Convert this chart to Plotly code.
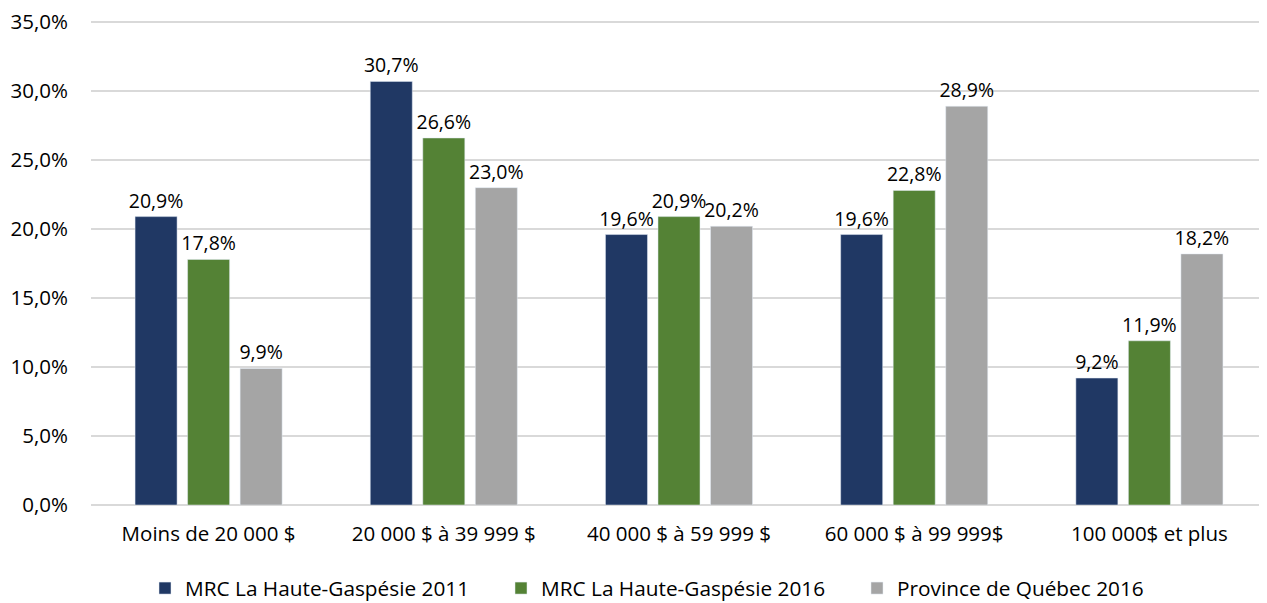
import plotly.graph_objects as go

categories = ["Moins de 20 000 $", "20 000 $ à 39 999 $", "40 000 $ à 59 999 $",
              "60 000 $ à 99 999$", "100 000$ et plus"]
mrc_2011 = [20.9, 30.7, 19.6, 19.6, 9.2]
mrc_2016 = [17.8, 26.6, 20.9, 22.8, 11.9]
quebec_2016 = [9.9, 23.0, 20.2, 28.9, 18.2]
series_names = ["MRC La Haute-Gaspésie 2011", "MRC La Haute-Gaspésie 2016",
                "Province de Québec 2016"]
colors = ["#203864", "#548235", "#A5A5A5"]
y_ticks = [0, 5, 10, 15, 20, 25, 30, 35]
y_tick_text = ["0,0%", "5,0%", "10,0%", "15,0%", "20,0%", "25,0%", "30,0%", "35,0%"]

FONT = "Open Sans, Lato, sans-serif"
FS = 20.5

fig = go.Figure()
for name, vals, col in zip(series_names, [mrc_2011, mrc_2016, quebec_2016], colors):
    fig.add_trace(go.Bar(
        x=categories, y=vals, name=name, marker_color=col,
        texttemplate="%{y:.1f}%", textposition="outside", constraintext="none",
        textfont=dict(size=FS - 1, color="#000000", family=FONT), cliponaxis=False,
    ))

fig.update_layout(
    width=1259, height=595,
    margin=dict(l=83, r=0, t=12, b=98, autoexpand=False),
    paper_bgcolor="white", plot_bgcolor="white",
    font=dict(family=FONT, size=FS, color="#000000"),
    separators=", ",
    barmode="group", bargap=0.33, bargroupgap=0.2,
    showlegend=True,
    legend=dict(orientation="h", x=0.5, xanchor="center", y=-0.13, yanchor="top",
                font=dict(size=20.8, family=FONT), traceorder="normal",
                itemwidth=30, entrywidth=311, entrywidthmode="pixels"),
)
fig.update_yaxes(range=[0, 35.15], tickvals=y_ticks, ticktext=y_tick_text,
                 showgrid=True, gridcolor="#D9D9D9", gridwidth=1.5,
                 zeroline=True, zerolinecolor="#D9D9D9", zerolinewidth=1.5,
                 ticks="", ticklen=0, ticklabelstandoff=22,
                 ticklabeloverflow="allow",
                 tickfont=dict(size=FS, family=FONT))
fig.update_xaxes(showline=False, ticks="", ticklabelstandoff=14,
                 tickfont=dict(size=FS, family=FONT))

fig.write_html("out.html")
